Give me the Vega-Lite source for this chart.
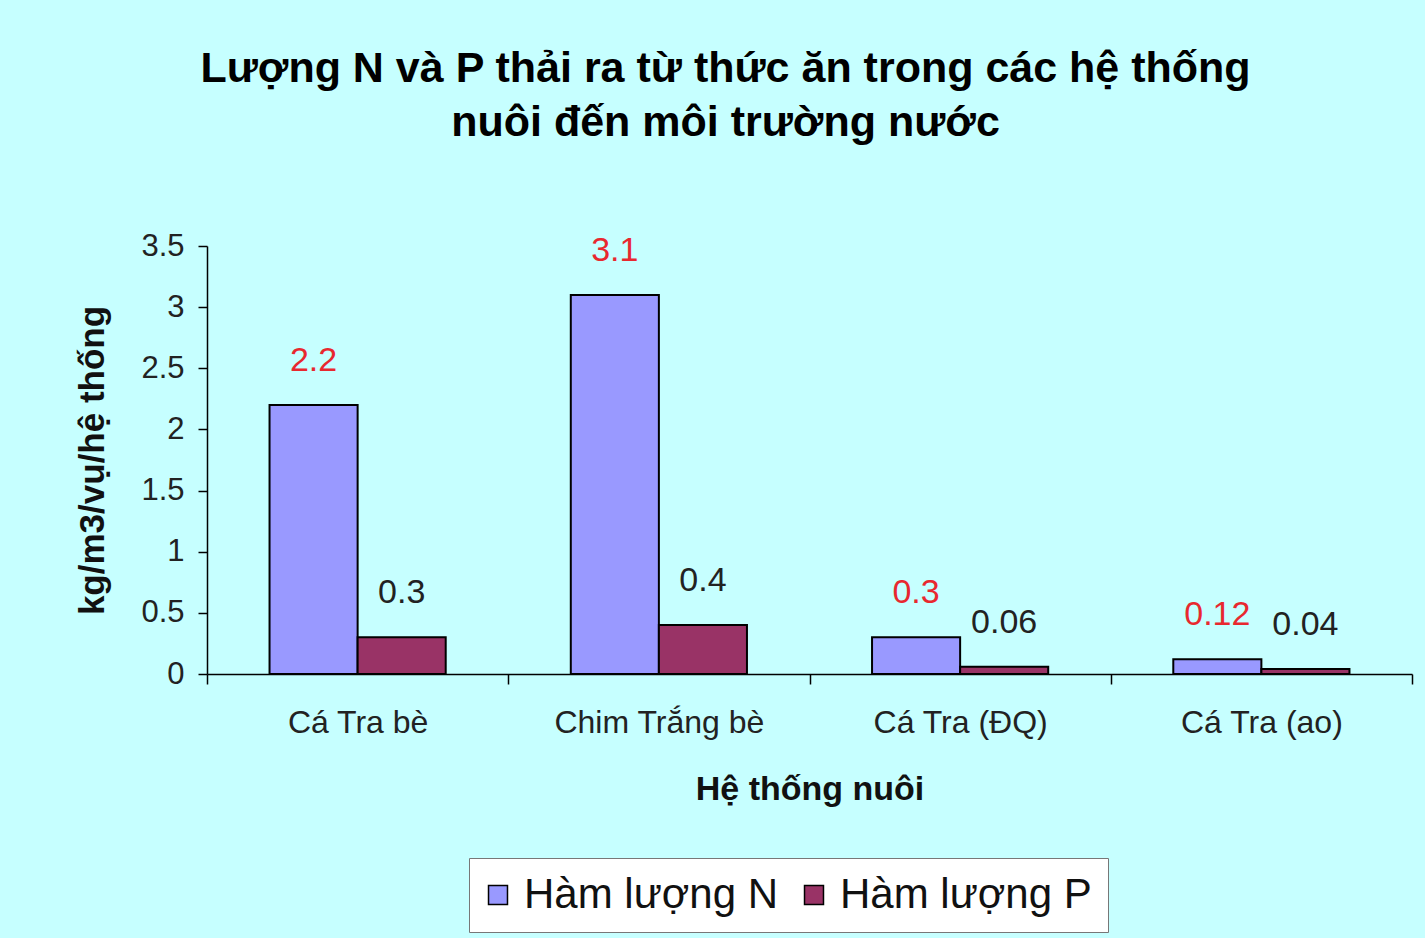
{
  "$schema": "https://vega.github.io/schema/vega-lite/v6.json",
  "autosize": "none",
  "width": 1205,
  "height": 428,
  "padding": {"left": 207, "top": 246, "right": 13, "bottom": 264},
  "background": "#c6ffff",
  "config": {
    "view": {"stroke": null},
    "font": "Liberation Sans"
  },
  "title": {
    "text": ["Lượng N và P thải ra từ thức ăn trong các hệ thống", "nuôi đến môi trường nước"],
    "font": "Liberation Sans",
    "fontSize": 43,
    "fontWeight": "bold",
    "lineHeight": 54,
    "color": "black",
    "anchor": "middle",
    "dx": -84,
    "offset": 85
  },
  "data": {
    "values": [
      {"he": "Cá Tra bè", "series": "Hàm lượng N", "value": 2.2},
      {"he": "Cá Tra bè", "series": "Hàm lượng P", "value": 0.3},
      {"he": "Chim Trắng bè", "series": "Hàm lượng N", "value": 3.1},
      {"he": "Chim Trắng bè", "series": "Hàm lượng P", "value": 0.4},
      {"he": "Cá Tra (ĐQ)", "series": "Hàm lượng N", "value": 0.3},
      {"he": "Cá Tra (ĐQ)", "series": "Hàm lượng P", "value": 0.06},
      {"he": "Cá Tra (ao)", "series": "Hàm lượng N", "value": 0.12},
      {"he": "Cá Tra (ao)", "series": "Hàm lượng P", "value": 0.04}
    ]
  },
  "encoding": {
    "x": {
      "field": "he",
      "type": "nominal",
      "sort": null,
      "scale": {"paddingInner": 0, "paddingOuter": 0},
      "axis": {
        "title": "Hệ thống nuôi",
        "labelAngle": 0,
        "labelLimit": 400,
        "tickBand": "extent",
        "domainColor": "black",
        "domainWidth": 1.5,
        "tickColor": "black",
        "tickWidth": 1.5,
        "tickSize": 10,
        "labelFont": "Liberation Sans",
        "labelFontSize": 32,
        "labelColor": "#222",
        "labelPadding": 23,
        "titleFont": "Liberation Sans",
        "titleFontSize": 34,
        "titleFontWeight": "bold",
        "titleColor": "#111",
        "titlePadding": 34
      }
    },
    "xOffset": {
      "field": "series",
      "type": "nominal",
      "scale": {"paddingInner": 0, "paddingOuter": 0.71}
    },
    "y": {
      "field": "value",
      "type": "quantitative",
      "scale": {"domain": [0, 3.5]},
      "axis": {
        "title": "kg/m3/vụ/hệ thống",
        "values": [0, 0.5, 1, 1.5, 2, 2.5, 3, 3.5],
        "format": "~g",
        "grid": false,
        "domainColor": "black",
        "domainWidth": 1.5,
        "tickColor": "black",
        "tickWidth": 1.5,
        "tickSize": 9,
        "labelFont": "Liberation Sans",
        "labelFontSize": 31,
        "labelColor": "#222",
        "labelPadding": 14,
        "titleFont": "Liberation Sans",
        "titleFontSize": 35,
        "titleFontWeight": "bold",
        "titleColor": "#111",
        "titlePadding": 30
      }
    }
  },
  "layer": [
    {
      "mark": {"type": "bar", "stroke": "black", "strokeWidth": 2},
      "encoding": {
        "color": {
          "field": "series",
          "type": "nominal",
          "scale": {"domain": ["Hàm lượng N", "Hàm lượng P"], "range": ["#9999ff", "#993366"]},
          "legend": {
            "orient": "none",
            "legendX": 262,
            "legendY": 612,
            "direction": "horizontal",
            "title": null,
            "fillColor": "white",
            "strokeColor": "#777",
            "padding": 16,
            "symbolOffset": -8,
            "symbolType": "square",
            "symbolSize": 360,
            "symbolStrokeColor": "black",
            "symbolStrokeWidth": 1.5,
            "labelFont": "Liberation Sans",
            "labelFontSize": 42,
            "labelColor": "#111",
            "labelLimit": 400,
            "labelOffset": 5,
            "columnPadding": 22
          }
        }
      }
    },
    {
      "mark": {"type": "text", "baseline": "middle", "dy": -44, "fontSize": 34, "font": "Liberation Sans"},
      "encoding": {
        "text": {"field": "value", "type": "quantitative", "format": "~g"},
        "color": {
          "condition": {"test": "datum.series == 'Hàm lượng N'", "value": "#e8282f"},
          "value": "#222"
        }
      }
    }
  ]
}
